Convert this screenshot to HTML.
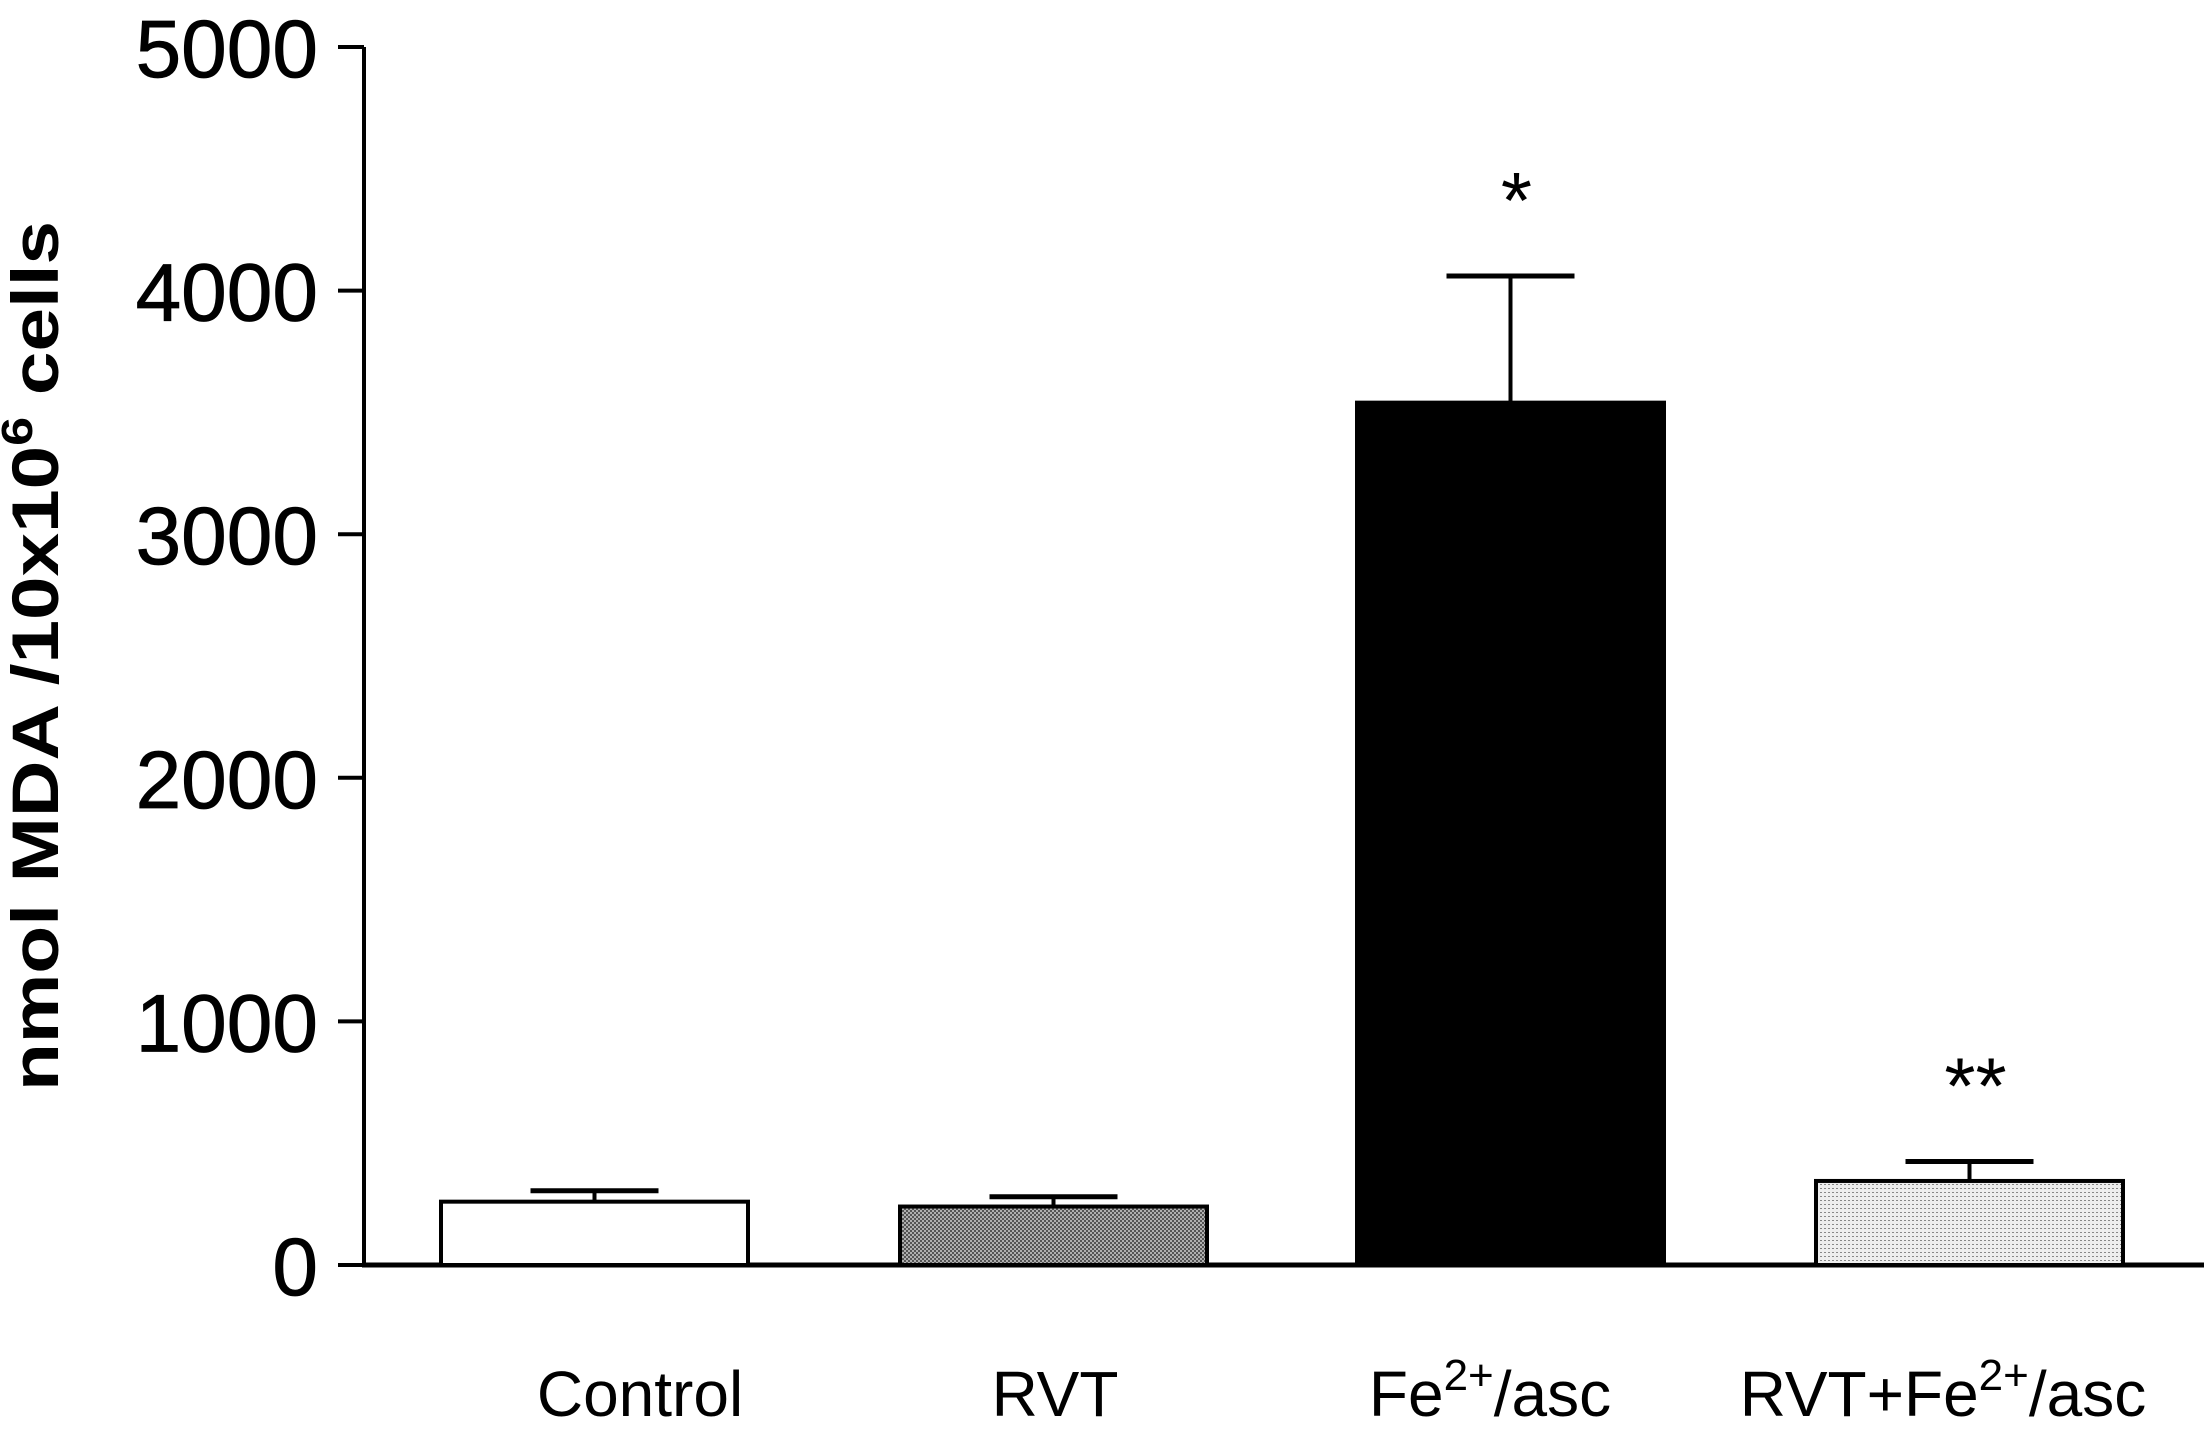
<!DOCTYPE html>
<html><head><meta charset="utf-8"><style>
html,body{margin:0;padding:0;background:#fff;}
svg{display:block;font-family:"Liberation Sans",Arial,sans-serif;}
</style></head><body>
<svg id="chart" width="2211" height="1444" viewBox="0 0 2211 1444">
<defs>
<pattern id="dark" width="4" height="4" patternUnits="userSpaceOnUse"><rect width="4" height="4" fill="#b0b0b0"/><rect width="2" height="2" fill="#555"/><rect x="2" y="2" width="2" height="2" fill="#555"/></pattern>
<pattern id="light" width="4" height="4" patternUnits="userSpaceOnUse"><rect width="4" height="4" fill="#eee"/><rect width="2" height="1" fill="#888"/></pattern>
</defs>
<g id="axes"></g>
<g id="bars"></g>
<text transform="translate(58,656) rotate(-90)" text-anchor="middle" font-size="66" font-weight="bold" textLength="870" lengthAdjust="spacingAndGlyphs">nmol MDA /10x10<tspan dy="-26" font-size="44">6</tspan><tspan dy="26"> cells</tspan></text>
</svg>
<script>
const categories = ["Control","RVT","Fe2+/asc","RVT+Fe2+/asc"];
const means = [260, 240, 3540, 345];
const errors = [45, 40, 520, 80];
const stars = ["", "", "*", "**"];
const yTicks = [0,1000,2000,3000,4000,5000];

const NS="http://www.w3.org/2000/svg";
const x0=364, x1=2204, y0=1265, yTop=47, yMax=5000;
const barLefts=[441,900,1357,1816], barW=307;
const labelCenters=[640,1055,1490,1943];
const fills=["#fff","url(#dark)","#000","url(#light)"];
const y=v=>y0-(v/yMax)*(y0-yTop);
function mk(t,a,p){const e=document.createElementNS(NS,t);for(const k in a)e.setAttribute(k,a[k]);p.appendChild(e);return e;}
const ax=document.getElementById('axes'), bg=document.getElementById('bars');
const ya=mk('line',{x1:x0,y1:yTop,x2:x0,y2:y0+2,stroke:'#000','stroke-width':4},ax);


yTicks.forEach(t=>{
  const l=mk('line',{x1:338,y1:y(t),x2:x0,y2:y(t),stroke:'#000','stroke-width':4},ax);
  
  
  const tx=mk('text',{x:318,y:y(t)+30,'text-anchor':'end','font-size':82,stroke:'#000','stroke-width':0.8},ax);
  tx.textContent=String(t);
  
  
});
categories.forEach((c,i)=>{
  const cx=barLefts[i]+barW/2;
  const top=y(means[i]), et=y(means[i]+errors[i]);
  const el=mk('line',{x1:cx,y1:et,x2:cx,y2:top,stroke:'#000','stroke-width':4},bg);
  
  
  const cap=mk('line',{x1:cx-64,y1:et,x2:cx+64,y2:et,stroke:'#000','stroke-width':5},bg);
  
  
  const r=mk('rect',{x:barLefts[i],y:top,width:barW,height:y0-top,fill:fills[i],stroke:'#000','stroke-width':4},bg);
  
  
  if(stars[i]){
    const s=mk('text',{x:cx+6,y:et-48,'text-anchor':'middle','font-size':80},bg);
    s.textContent=stars[i];
    
    
  }
  const lab=mk('text',{x:labelCenters[i],y:1416,'text-anchor':'middle','font-size':64},bg);
  
  
  const m=c.match(/^(.*Fe)2\+(.*)$/);
  if(m){
    lab.appendChild(document.createTextNode(m[1]));
    const sp=mk('tspan',{dy:-26,'font-size':44},lab); sp.textContent='2+';
    const rest=mk('tspan',{dy:26},lab); rest.textContent=m[2];
  } else lab.textContent=c;
});
const xa=mk('line',{x1:x0-2,y1:y0,x2:x1,y2:y0,stroke:'#000','stroke-width':5},ax);


</script>
</body></html>
